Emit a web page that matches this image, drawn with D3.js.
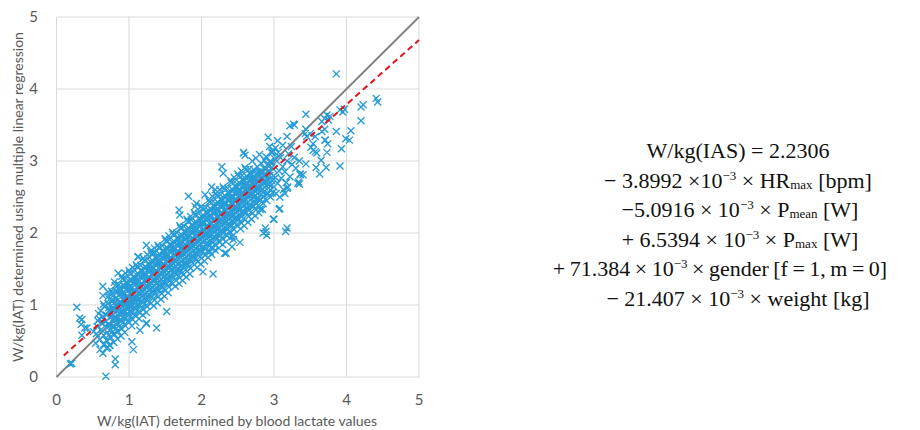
<!DOCTYPE html>
<html>
<head>
<meta charset="utf-8">
<script src="https://cdn.jsdelivr.net/npm/d3@7"></script>
<style>
  body { margin: 0; background: #fff; }
  text { white-space: pre; }
</style>
</head>
<body>
<svg id="chart" width="920" height="430"></svg>
<script>
// axis ticks
const xTicks = [0, 1, 2, 3, 4, 5];
const yTicks = [0, 1, 2, 3, 4, 5];

// reference lines: identity (grey) and regression fit (red dashed)
const identityLine = [[0, 0], [5, 5]];
const fitLine = [[0.1, 0.30], [5, 4.68]];

// dense part of the scatter
const cloud = [
  [0.55,0.60],[0.57,0.78],[0.54,0.47],[0.56,0.70],[0.58,0.88],
  [0.60,0.52],[0.62,0.66],[0.59,0.81],[0.61,0.92],[0.60,0.38],[0.63,0.74],
  [0.65,0.58],[0.67,0.71],[0.64,0.84],[0.66,0.98],[0.65,0.45],[0.68,0.77],[0.64,0.33],
  [0.70,0.62],[0.72,0.74],[0.69,0.86],[0.71,1.02],[0.70,0.50],[0.73,0.93],[0.69,0.40],[0.72,1.12],
  [0.75,0.66],[0.77,0.79],[0.74,0.90],[0.76,1.05],[0.75,0.55],[0.78,0.97],[0.74,0.44],[0.77,1.16],[0.76,0.84],
  [0.80,0.70],[0.82,0.83],[0.79,0.95],[0.81,1.09],[0.80,0.59],[0.83,1.00],[0.79,0.48],[0.82,1.20],[0.81,0.89],[0.80,1.32],
  [0.85,0.74],[0.87,0.87],[0.84,0.99],[0.86,1.13],[0.85,0.63],[0.88,1.05],[0.84,0.53],[0.87,1.24],[0.86,0.93],[0.88,0.80],
  [0.90,0.78],[0.92,0.91],[0.89,1.03],[0.91,1.17],[0.90,0.67],[0.93,1.09],[0.89,0.57],[0.92,1.28],[0.91,0.97],[0.90,1.40],[0.93,0.84],[0.89,1.21],
  [0.95,0.82],[0.97,0.95],[0.94,1.07],[0.96,1.21],[0.95,0.71],[0.98,1.13],[0.94,0.62],[0.97,1.32],[0.96,1.01],[0.95,1.44],[0.98,0.88],[0.94,1.25],
  [1.00,0.86],[1.02,0.99],[0.99,1.11],[1.01,1.25],[1.00,0.76],[1.03,1.17],[1.02,1.36],[1.01,1.05],[1.00,1.48],[1.03,0.92],[0.99,1.29],
  [1.05,0.90],[1.07,1.03],[1.04,1.15],[1.06,1.29],[1.05,0.80],[1.08,1.21],[1.04,0.71],[1.07,1.40],[1.06,1.09],[1.05,1.52],[1.08,0.96],[1.04,1.34],
  [1.10,0.95],[1.12,1.08],[1.09,1.20],[1.11,1.33],[1.10,0.85],[1.13,1.26],[1.09,0.76],[1.12,1.44],[1.11,1.13],[1.10,1.56],[1.13,1.01],[1.09,1.38],
  [1.15,0.99],[1.17,1.12],[1.14,1.24],[1.16,1.38],[1.15,0.89],[1.18,1.30],[1.14,0.81],[1.17,1.49],[1.16,1.17],[1.18,1.05],[1.14,1.42],
  [1.20,1.04],[1.22,1.16],[1.19,1.28],[1.21,1.42],[1.20,0.94],[1.23,1.35],[1.19,0.86],[1.22,1.53],[1.21,1.22],[1.20,1.65],[1.23,1.10],[1.19,1.47],
  [1.25,1.08],[1.27,1.21],[1.24,1.33],[1.26,1.47],[1.25,0.98],[1.28,1.39],[1.24,0.90],[1.27,1.58],[1.26,1.26],[1.25,1.70],[1.28,1.14],[1.24,1.52],
  [1.30,1.12],[1.32,1.25],[1.29,1.37],[1.31,1.51],[1.30,1.02],[1.33,1.44],[1.32,1.62],[1.31,1.31],[1.30,1.74],[1.33,1.18],[1.29,1.56],
  [1.35,1.17],[1.37,1.30],[1.34,1.42],[1.36,1.56],[1.35,1.07],[1.38,1.48],[1.34,0.99],[1.37,1.67],[1.36,1.35],[1.35,1.79],[1.38,1.23],[1.34,1.60],
  [1.40,1.21],[1.42,1.34],[1.39,1.46],[1.41,1.60],[1.40,1.11],[1.43,1.53],[1.39,1.03],[1.42,1.71],[1.41,1.40],[1.40,1.83],[1.43,1.27],[1.39,1.65],
  [1.45,1.26],[1.47,1.39],[1.44,1.51],[1.46,1.65],[1.45,1.16],[1.48,1.57],[1.44,1.08],[1.47,1.76],[1.46,1.44],[1.48,1.32],[1.44,1.69],
  [1.50,1.30],[1.52,1.43],[1.49,1.55],[1.51,1.69],[1.50,1.20],[1.53,1.62],[1.49,1.12],[1.52,1.80],[1.51,1.49],[1.50,1.92],[1.53,1.36],[1.49,1.74],
  [1.55,1.35],[1.57,1.48],[1.54,1.60],[1.56,1.74],[1.55,1.25],[1.58,1.66],[1.54,1.17],[1.57,1.85],[1.56,1.53],[1.55,1.96],[1.58,1.41],[1.54,1.78],
  [1.60,1.39],[1.62,1.52],[1.59,1.64],[1.61,1.78],[1.60,1.29],[1.63,1.71],[1.62,1.89],[1.61,1.58],[1.60,2.01],[1.63,1.45],[1.59,1.83],
  [1.65,1.44],[1.67,1.57],[1.64,1.69],[1.66,1.83],[1.65,1.34],[1.68,1.75],[1.64,1.26],[1.67,1.94],[1.66,1.62],[1.68,1.50],[1.64,1.87],
  [1.70,1.48],[1.72,1.61],[1.69,1.73],[1.71,1.87],[1.70,1.38],[1.73,1.80],[1.69,1.30],[1.72,1.98],[1.71,1.67],[1.70,2.10],[1.73,1.54],[1.69,1.92],
  [1.75,1.52],[1.77,1.65],[1.74,1.77],[1.76,1.91],[1.75,1.42],[1.78,1.84],[1.74,1.34],[1.77,2.03],[1.76,1.71],[1.78,1.58],[1.74,1.96],
  [1.80,1.57],[1.82,1.70],[1.79,1.82],[1.81,1.96],[1.80,1.47],[1.83,1.89],[1.79,1.39],[1.82,2.07],[1.81,1.76],[1.80,2.19],[1.83,1.63],[1.79,2.01],
  [1.85,1.61],[1.87,1.74],[1.84,1.86],[1.86,2.00],[1.85,1.51],[1.88,1.93],[1.84,1.43],[1.87,2.12],[1.86,1.80],[1.85,2.23],[1.88,1.67],[1.84,2.05],
  [1.90,1.66],[1.92,1.79],[1.89,1.91],[1.91,2.05],[1.90,1.56],[1.93,1.98],[1.92,2.16],[1.91,1.85],[1.90,2.28],[1.93,1.72],[1.89,2.10],
  [1.95,1.70],[1.97,1.83],[1.94,1.95],[1.96,2.09],[1.95,1.60],[1.98,2.02],[1.94,1.52],[1.97,2.21],[1.96,1.89],[1.95,2.33],[1.98,1.76],[1.94,2.14],
  [2.00,1.75],[2.02,1.88],[1.99,2.00],[2.01,2.14],[2.00,1.65],[2.03,2.06],[1.99,1.57],[2.02,2.25],[2.01,1.94],[2.00,2.37],[2.03,1.81],[1.99,2.19],
  [2.05,1.79],[2.07,1.92],[2.04,2.04],[2.06,2.18],[2.05,1.69],[2.08,2.11],[2.04,1.61],[2.07,2.30],[2.06,1.98],[2.08,1.85],[2.04,2.23],
  [2.10,1.84],[2.12,1.97],[2.09,2.09],[2.11,2.23],[2.10,1.74],[2.13,2.15],[2.09,1.66],[2.12,2.34],[2.11,2.03],[2.10,2.46],[2.13,1.90],[2.09,2.28],
  [2.15,1.88],[2.17,2.01],[2.14,2.13],[2.16,2.27],[2.15,1.78],[2.18,2.20],[2.14,1.70],[2.17,2.39],[2.16,2.07],[2.15,2.51],[2.18,1.94],[2.14,2.32],
  [2.20,1.93],[2.22,2.06],[2.19,2.18],[2.21,2.32],[2.20,1.83],[2.23,2.24],[2.22,2.43],[2.21,2.12],[2.20,2.55],[2.23,1.99],[2.19,2.37],
  [2.25,1.97],[2.27,2.10],[2.24,2.22],[2.26,2.36],[2.25,1.87],[2.28,2.29],[2.24,1.79],[2.27,2.48],[2.26,2.16],[2.25,2.60],[2.28,2.03],[2.24,2.41],
  [2.30,2.02],[2.32,2.15],[2.29,2.27],[2.31,2.41],[2.30,1.92],[2.33,2.33],[2.29,1.84],[2.32,2.52],[2.31,2.21],[2.30,2.64],[2.33,2.08],[2.29,2.46],
  [2.35,2.06],[2.37,2.19],[2.34,2.31],[2.36,2.45],[2.35,1.96],[2.38,2.38],[2.34,1.88],[2.37,2.57],[2.36,2.25],[2.38,2.12],[2.34,2.50],
  [2.40,2.11],[2.42,2.24],[2.39,2.36],[2.41,2.50],[2.40,2.01],[2.43,2.42],[2.39,1.93],[2.42,2.61],[2.41,2.30],[2.40,2.73],[2.43,2.17],[2.39,2.55],
  [2.45,2.15],[2.47,2.28],[2.44,2.40],[2.46,2.54],[2.45,2.05],[2.48,2.47],[2.44,1.97],[2.47,2.66],[2.46,2.34],[2.45,2.77],[2.48,2.21],[2.44,2.59],
  [2.50,2.20],[2.52,2.33],[2.49,2.45],[2.51,2.59],[2.50,2.10],[2.53,2.51],[2.52,2.70],[2.51,2.39],[2.50,2.82],[2.53,2.26],[2.49,2.63],
  [2.55,2.24],[2.57,2.37],[2.54,2.49],[2.56,2.63],[2.55,2.14],[2.58,2.56],[2.54,2.06],[2.57,2.75],[2.56,2.43],[2.55,2.86],[2.58,2.30],[2.54,2.68],
  [2.60,2.28],[2.62,2.41],[2.59,2.53],[2.61,2.67],[2.60,2.18],[2.63,2.60],[2.59,2.10],[2.62,2.79],[2.61,2.47],[2.60,2.91],[2.63,2.34],[2.59,2.72],
  [2.65,2.33],[2.67,2.46],[2.64,2.58],[2.66,2.72],[2.65,2.23],[2.68,2.64],[2.64,2.15],[2.67,2.84],[2.66,2.52],[2.68,2.39],[2.64,2.77],
  [2.70,2.37],[2.72,2.50],[2.69,2.62],[2.71,2.76],[2.70,2.27],[2.73,2.69],[2.69,2.19],[2.72,2.88],[2.71,2.56],[2.70,3.00],[2.73,2.43],[2.69,2.81],
  [2.75,2.42],[2.77,2.55],[2.74,2.67],[2.76,2.81],[2.75,2.32],[2.78,2.73],[2.74,2.24],[2.77,2.92],[2.76,2.61],[2.75,3.04],[2.78,2.48],
  [2.80,2.46],[2.82,2.59],[2.79,2.71],[2.81,2.85],[2.80,2.36],[2.83,2.78],[2.79,2.28],[2.82,2.97],[2.81,2.65],[2.80,3.09],
  [2.85,2.51],[2.87,2.64],[2.84,2.76],[2.86,2.90],[2.85,2.41],[2.88,2.82],[2.84,2.33],[2.87,3.01],[2.86,2.70],
  [2.90,2.55],[2.92,2.68],[2.89,2.80],[2.91,2.94],[2.90,2.45],[2.93,2.87],[2.89,3.06],[2.92,2.74],
  [2.95,2.60],[2.97,2.73],[2.94,2.85],[2.96,2.99],[2.95,2.50],[2.98,3.12],[2.97,2.91],
  [3.00,2.64],[3.02,2.77],[2.99,2.89],[3.01,3.03],[3.03,2.55],[3.02,3.18],
  [3.05,2.69],[3.07,2.86],[3.04,3.00],[3.06,3.12],
  [3.10,2.76],[3.12,2.92],[3.09,3.05],
  [3.15,2.85],[3.18,3.00],[3.20,3.10],[3.25,2.95],[3.12,3.22],[3.22,2.78],[3.28,3.05],
  [3.30,2.90],[3.17,2.70],[3.05,3.28],[3.24,3.20],[3.13,2.60],[3.35,3.00],[3.08,2.50]
];

// points lying between the columns above, where the band is solid
const core = [
  [0.72,0.58],[0.73,0.71],[0.74,0.83],[0.72,0.96],[0.73,1.08],[0.71,1.18],
  [0.78,0.59],[0.77,0.70],[0.79,0.82],[0.77,0.94],[0.78,1.06],[0.76,1.19],
  [0.82,0.67],[0.83,0.80],[0.84,0.92],[0.82,1.05],[0.83,1.17],[0.81,1.27],
  [0.88,0.68],[0.87,0.79],[0.89,0.91],[0.87,1.03],[0.88,1.15],[0.86,1.28],
  [0.92,0.76],[0.93,0.89],[0.94,1.01],[0.92,1.14],[0.93,1.26],[0.91,1.36],
  [0.98,0.77],[0.97,0.88],[0.99,1.00],[0.97,1.12],[0.98,1.24],[0.96,1.37],
  [1.02,0.84],[1.03,0.97],[1.04,1.09],[1.02,1.22],[1.03,1.34],[1.01,1.44],
  [1.08,0.86],[1.07,0.97],[1.09,1.09],[1.07,1.21],[1.08,1.33],[1.06,1.46],
  [1.12,0.93],[1.13,1.06],[1.14,1.18],[1.12,1.31],[1.13,1.43],[1.11,1.53],
  [1.18,0.95],[1.17,1.06],[1.19,1.18],[1.17,1.30],[1.18,1.42],[1.16,1.55],
  [1.22,1.02],[1.23,1.15],[1.24,1.27],[1.22,1.40],[1.23,1.52],[1.21,1.62],
  [1.28,1.04],[1.27,1.15],[1.29,1.27],[1.27,1.39],[1.28,1.51],[1.26,1.64],
  [1.32,1.11],[1.33,1.24],[1.34,1.36],[1.32,1.49],[1.33,1.61],[1.31,1.71],
  [1.38,1.13],[1.37,1.24],[1.39,1.36],[1.37,1.48],[1.38,1.60],[1.36,1.73],
  [1.42,1.20],[1.43,1.33],[1.44,1.45],[1.42,1.58],[1.43,1.70],[1.41,1.80],
  [1.48,1.22],[1.47,1.33],[1.49,1.45],[1.47,1.57],[1.48,1.69],[1.46,1.82],
  [1.52,1.29],[1.53,1.42],[1.54,1.54],[1.52,1.67],[1.53,1.79],[1.51,1.89],
  [1.58,1.31],[1.57,1.42],[1.59,1.54],[1.57,1.66],[1.58,1.78],[1.56,1.91],
  [1.62,1.38],[1.63,1.51],[1.64,1.63],[1.62,1.76],[1.63,1.88],[1.61,1.98],
  [1.68,1.40],[1.67,1.51],[1.69,1.63],[1.67,1.75],[1.68,1.87],[1.66,2.00],
  [1.72,1.47],[1.73,1.60],[1.74,1.72],[1.72,1.85],[1.73,1.97],[1.71,2.07],
  [1.78,1.49],[1.77,1.60],[1.79,1.72],[1.77,1.84],[1.78,1.96],[1.76,2.09],
  [1.82,1.56],[1.83,1.69],[1.84,1.81],[1.82,1.94],[1.83,2.06],[1.81,2.16],
  [1.88,1.58],[1.87,1.69],[1.89,1.81],[1.87,1.93],[1.88,2.05],[1.86,2.18],
  [1.92,1.65],[1.93,1.78],[1.94,1.90],[1.92,2.03],[1.93,2.15],[1.91,2.25],
  [1.98,1.67],[1.97,1.78],[1.99,1.90],[1.97,2.02],[1.98,2.14],[1.96,2.27],
  [2.02,1.74],[2.03,1.87],[2.04,1.99],[2.02,2.12],[2.03,2.24],[2.01,2.34],
  [2.08,1.75],[2.07,1.86],[2.09,1.98],[2.07,2.10],[2.08,2.22],[2.06,2.35],
  [2.12,1.83],[2.13,1.96],[2.14,2.08],[2.12,2.21],[2.13,2.33],[2.11,2.43],
  [2.18,1.84],[2.17,1.95],[2.19,2.07],[2.17,2.19],[2.18,2.31],[2.16,2.44],
  [2.22,1.92],[2.23,2.05],[2.24,2.17],[2.22,2.30],[2.23,2.42],[2.21,2.52],
  [2.28,1.93],[2.27,2.04],[2.29,2.16],[2.27,2.28],[2.28,2.40],[2.26,2.53],
  [2.32,2.01],[2.33,2.14],[2.34,2.26],[2.32,2.39],[2.33,2.51],[2.31,2.61],
  [2.38,2.02],[2.37,2.13],[2.39,2.25],[2.37,2.37],[2.38,2.49],[2.36,2.62],
  [2.42,2.10],[2.43,2.23],[2.44,2.35],[2.42,2.48],[2.43,2.60],[2.41,2.70],
  [2.48,2.11],[2.47,2.22],[2.49,2.34],[2.47,2.46],[2.48,2.58],[2.46,2.71],
  [2.52,2.19],[2.53,2.32],[2.54,2.44],[2.52,2.57],[2.53,2.69],[2.51,2.79],
  [2.58,2.20],[2.57,2.31],[2.59,2.43],[2.57,2.55],[2.58,2.67],[2.56,2.80],
  [2.62,2.28],[2.63,2.41],[2.64,2.53],[2.62,2.66],[2.63,2.78],[2.61,2.88],
  [2.68,2.29],[2.67,2.40],[2.69,2.52],[2.67,2.64],[2.68,2.76],[2.66,2.89],
  [2.72,2.37],[2.73,2.50],[2.74,2.62],[2.72,2.75],[2.73,2.87],
  [2.78,2.38],[2.77,2.49],[2.79,2.61],[2.77,2.73],[2.78,2.85],
  [2.82,2.46],[2.83,2.59],[2.84,2.71],[2.82,2.84],
  [2.88,2.47],[2.87,2.58],[2.89,2.70],[2.87,2.82],
  [2.92,2.55],[2.93,2.68],[2.94,2.80],
  [2.98,2.56],[2.97,2.67],[2.99,2.79]
];

// scattered points away from the main band
const outliers = [
  [0.28,0.97],[0.32,0.82],[0.35,0.80],[0.34,0.73],[0.42,0.68],[0.39,0.68],[0.35,0.58],
  [0.51,0.63],[0.21,0.19],[0.19,0.18],[0.68,0.01],[0.81,0.25],[0.81,0.17],[0.71,0.41],
  [0.69,0.51],[0.73,0.44],[1.06,0.38],[1.04,0.49],[1.15,0.65],[1.24,0.75],[1.52,0.91],
  [0.64,1.26],[0.64,1.13],[0.65,1.01],[0.85,1.44],[1.12,1.67],[1.38,0.68],[1.24,0.74],
  [1.13,1.67],[1.24,1.83],[1.31,1.76],[1.34,1.72],[1.82,2.51],[1.93,2.41],[1.91,2.37],
  [1.69,2.32],[1.70,2.25],[2.02,1.46],[2.16,1.43],[2.34,1.72],[2.19,1.76],[2.12,1.74],
  [2.32,1.72],[2.42,1.81],[2.44,1.91],[2.53,1.87],[2.42,1.95],[2.81,2.33],[3.07,2.33],
  [3.00,2.19],[2.88,2.07],[2.90,1.97],[2.85,2.00],[3.18,2.07],[3.16,2.02],[3.08,2.34],
  [2.99,2.19],[2.89,2.02],[3.34,2.71],[3.36,2.81],[2.94,2.99],[2.97,3.11],[2.05,2.53],
  [2.14,2.64],[2.19,2.60],[2.28,2.92],[2.30,2.83],[2.58,3.11],[2.60,3.08],[2.58,3.12],
  [2.92,3.33],[2.94,3.20],[2.98,3.15],[3.18,3.34],[3.22,3.49],[3.27,3.51],[3.28,3.50],
  [3.44,3.65],[3.43,3.38],[3.45,3.34],[3.50,3.38],[3.44,3.44],[3.57,3.34],[3.54,3.24],
  [3.51,3.19],[3.57,3.13],[3.59,3.11],[3.54,3.15],[3.65,3.01],[3.58,2.91],[3.72,2.91],
  [3.63,2.82],[3.44,2.96],[3.40,2.81],[3.35,2.68],[3.33,2.69],[3.36,2.82],[3.15,2.55],
  [3.19,2.64],[3.18,2.62],[3.73,3.64],[3.77,3.62],[3.75,3.57],[3.70,3.59],[3.66,3.55],
  [3.66,3.41],[3.70,3.44],[3.71,3.29],[3.74,3.24],[3.73,3.12],[3.70,3.29],[3.86,3.41],
  [3.91,3.71],[3.95,3.68],[3.97,3.72],[3.93,3.17],[3.91,2.93],[4.06,3.42],[3.99,3.31],
  [4.04,3.29],[4.20,3.56],[4.20,3.75],[4.23,3.78],[4.41,3.87],[4.43,3.82],[3.86,4.21]
];

// regression equation, one entry per line: [text, style]
const equationLines = [
  [["W/kg(IAS) = 2.2306", ""]],
  [["\u2212 3.8992 \u00d710", ""], ["\u22123", "sup"], [" \u00d7 HR", ""], ["max", "sub"], [" [bpm]", ""]],
  [["\u22125.0916 \u00d7 10", ""], ["\u22123", "sup"], [" \u00d7 P", ""], ["mean", "sub"], [" [W]", ""]],
  [["+ 6.5394 \u00d7 10", ""], ["\u22123", "sup"], [" \u00d7 P", ""], ["max", "sub"], [" [W]", ""]],
  [["+ 71.384 \u00d7 10", ""], ["\u22123", "sup"], [" \u00d7 gender [f = 1, m = 0]", ""]],
  [["\u2212 21.407 \u00d7 10", ""], ["\u22123", "sup"], [" \u00d7 weight [kg]", ""]]
];
const equationX = [738, 738, 740, 740, 720, 738];

const svg = d3.select("#chart");
const x = d3.scaleLinear().domain([0, 5]).range([56.5, 419]);
const y = d3.scaleLinear().domain([0, 5]).range([377, 17]);
const grid = "#d9d9d9", labelCol = "#595959";

// gridlines
svg.append("g").selectAll("line").data(xTicks).join("line")
  .attr("x1", d => x(d)).attr("x2", d => x(d))
  .attr("y1", y(0)).attr("y2", y(5))
  .attr("stroke", grid).attr("stroke-width", 1);
svg.append("g").selectAll("line").data(yTicks).join("line")
  .attr("x1", x(0)).attr("x2", x(5))
  .attr("y1", d => y(d)).attr("y2", d => y(d))
  .attr("stroke", grid).attr("stroke-width", 1);

// tick labels
svg.append("g").selectAll("text").data(xTicks).join("text")
  .attr("x", d => x(d)).attr("y", 405)
  .attr("text-anchor", "middle")
  .style("font", "15px Lato, sans-serif").attr("fill", labelCol)
  .text(d => d);
svg.append("g").selectAll("text").data(yTicks).join("text")
  .attr("x", 38).attr("y", d => y(d) + 5)
  .attr("text-anchor", "end")
  .style("font", "15px Lato, sans-serif").attr("fill", labelCol)
  .text(d => d);

// axis titles
svg.append("text")
  .attr("x", 237).attr("y", 426).attr("text-anchor", "middle")
  .style("font", "14px Lato, sans-serif").attr("fill", labelCol)
  .text("W/kg(IAT) determined by blood lactate values");
svg.append("text")
  .attr("transform", "translate(23,197) rotate(-90)").attr("text-anchor", "middle")
  .style("font", "14px Lato, sans-serif").attr("fill", labelCol)
  .text("W/kg(IAT) determined using multiple linear regression");

const line = d3.line().x(d => x(d[0])).y(d => y(d[1]));

// identity line sits under the markers
svg.append("path").datum(identityLine)
  .attr("d", line).attr("stroke", "#808080").attr("stroke-width", 1.8).attr("fill", "none");

// x-shaped markers
const s = 3.5;
const cross = d => {
  const cx = x(d[0]), cy = y(d[1]);
  return `M${cx - s},${cy - s}L${cx + s},${cy + s}M${cx - s},${cy + s}L${cx + s},${cy - s}`;
};
svg.append("path")
  .attr("d", cloud.concat(core, outliers).map(cross).join(""))
  .attr("stroke", "#259bd7").attr("stroke-width", 1.35).attr("fill", "none");

// regression fit, dashed red on top
svg.append("path").datum(fitLine)
  .attr("d", line).attr("stroke", "#e5141b").attr("stroke-width", 2)
  .attr("stroke-dasharray", "6,4").attr("fill", "none");

// equation block
const eq = svg.append("g").style("font-family", "'Liberation Serif', serif").attr("fill", "#111");
equationLines.forEach((parts, i) => {
  const t = eq.append("text")
    .attr("x", equationX[i]).attr("y", 158 + i * 29.6)
    .attr("text-anchor", "middle").style("font-size", "22px")
    .style("word-spacing", i === 4 ? "-1px" : null);
  let shift = 0;
  parts.forEach(([str, kind]) => {
    const target = kind === "sup" ? -8 : kind === "sub" ? 1 : 0;
    t.append("tspan")
      .attr("dy", target - shift)
      .style("font-size", kind ? "13px" : "22px")
      .text(str);
    shift = target;
  });
});
</script>
</body>
</html>
